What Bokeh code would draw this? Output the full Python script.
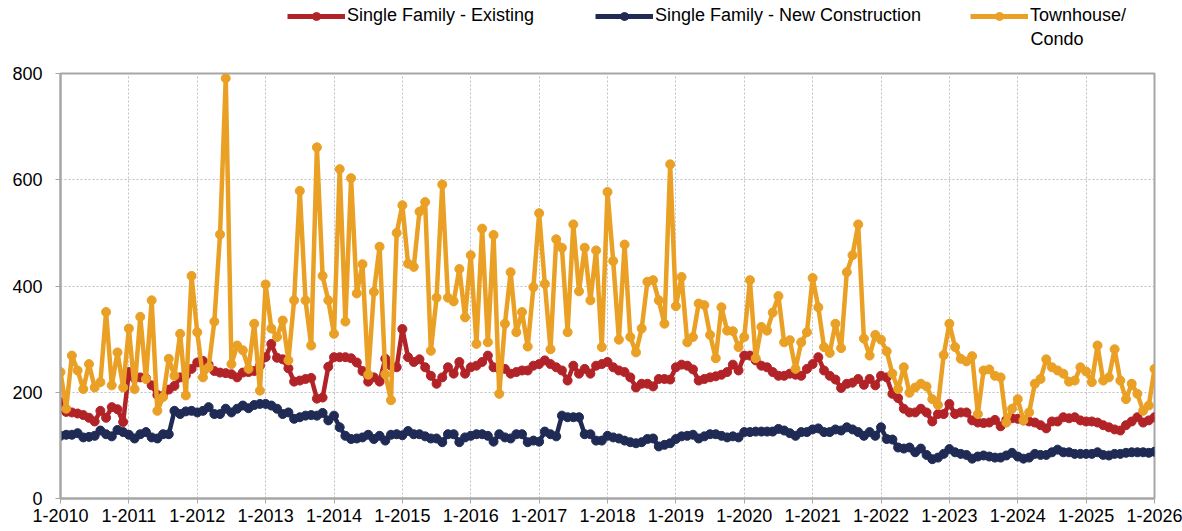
from bokeh.plotting import figure
from bokeh.layouts import column
from bokeh.models import Range1d, FixedTicker, Legend, LegendItem, Label, ColumnDataSource
from bokeh.embed import file_html
from bokeh.resources import INLINE

# ---------------- data (monthly, 1-2010 .. 1-2026) ----------------
tick_labels = ["1-2010", "1-2011", "1-2012", "1-2013", "1-2014", "1-2015", "1-2016",
               "1-2017", "1-2018", "1-2019", "1-2020", "1-2021", "1-2022", "1-2023",
               "1-2024", "1-2025", "1-2026"]

series_names = ["Single Family - Existing", "Single Family - New Construction", "Townhouse/"]
second_line = "Condo"

existing = [
    181, 163, 162, 160, 157, 152, 145, 165, 152, 172, 168, 144,
    238, 226, 228, 226, 213, 195, 193, 205, 212, 228, 232, 244,
    256, 259, 252, 240, 237, 236, 234, 228, 237, 238, 240, 250,
    266, 291, 265, 262, 245, 220, 222, 225, 227, 188, 190, 248,
    266, 266, 266, 264, 256, 240, 220, 228, 220, 263, 250, 247,
    319, 266, 257, 262, 247, 231, 216, 228, 247, 235, 257, 235,
    247, 250, 257, 269, 247, 244, 244, 235, 238, 241, 241, 250,
    253, 260, 253, 247, 241, 222, 250, 235, 244, 235, 250, 253,
    257, 247, 241, 238, 228, 209, 216, 216, 211, 225, 225, 224,
    247, 252, 250, 243, 222, 225, 228, 230, 233, 238, 252, 241,
    269, 269, 260, 250, 247, 238, 231, 231, 235, 233, 231, 244,
    253, 266, 241, 231, 224, 208, 216, 218, 225, 214, 225, 213,
    231, 228, 197, 189, 169, 162, 162, 169, 162, 145, 159, 159,
    178, 159, 162, 162, 147, 143, 142, 143, 148, 136, 148, 151,
    150, 147, 145, 143, 138, 132, 145, 145, 153, 151, 153, 147,
    145, 145, 143, 138, 134, 130, 128, 138, 145, 153, 143, 147,
    153,
]

new_construction = [
    118, 120, 120, 123, 115, 116, 118, 128, 121, 117, 129, 125,
    120, 113, 121, 125, 115, 113, 121, 121, 165, 159, 164, 165,
    162, 165, 172, 159, 159, 169, 162, 169, 175, 170, 176, 178,
    178, 175, 169, 159, 162, 150, 153, 156, 157, 156, 161, 147,
    156, 134, 118, 112, 113, 115, 120, 112, 118, 109, 120, 121,
    119, 127, 121, 121, 117, 113, 113, 106, 121, 121, 106, 115,
    118, 121, 121, 118, 107, 121, 115, 113, 121, 121, 106, 109,
    107, 126, 121, 117, 156, 153, 153, 153, 121, 121, 109, 109,
    118, 115, 113, 109, 106, 104, 106, 112, 113, 98, 101, 104,
    112, 117, 118, 120, 113, 117, 121, 121, 118, 115, 117, 115,
    125, 125, 126, 126, 126, 126, 131, 128, 123, 118, 125, 125,
    130, 132, 125, 125, 130, 128, 134, 130, 125, 118, 125, 118,
    134, 112, 111, 96, 94, 96, 87, 94, 82, 74, 77, 84,
    93, 87, 84, 82, 75, 79, 81, 79, 77, 77, 81, 86,
    79, 75, 77, 84, 82, 82, 87, 92, 87, 87, 84, 84,
    84, 84, 87, 82, 81, 84, 84, 86, 87, 87, 87, 86,
    88,
]

townhouse = [
    238, 169, 269, 241, 206, 253, 209, 219, 351, 213, 275, 209,
    320, 206, 342, 225, 373, 165, 191, 263, 231, 310, 194, 419,
    313, 228, 247, 333, 497, 791, 253, 288, 279, 244, 329, 203,
    403, 320, 304, 335, 260, 373, 579, 373, 288, 661, 419, 373,
    310, 620, 333, 603, 386, 441, 233, 389, 474, 234, 185, 500,
    552, 442, 436, 540, 558, 278, 378, 591, 378, 371, 432, 341,
    458, 291, 508, 294, 496, 197, 329, 426, 313, 351, 286, 398,
    537, 404, 281, 488, 472, 313, 516, 390, 472, 373, 467, 285,
    577, 447, 299, 478, 304, 275, 320, 408, 411, 373, 329, 629,
    362, 417, 294, 304, 367, 364, 308, 264, 360, 316, 315, 285,
    304, 411, 264, 323, 316, 350, 381, 294, 298, 244, 294, 313,
    415, 360, 285, 274, 329, 283, 426, 458, 516, 301, 269, 308,
    299, 277, 235, 206, 247, 199, 209, 216, 211, 187, 176, 270,
    329, 285, 263, 258, 268, 159, 241, 243, 231, 228, 143, 169,
    187, 147, 162, 216, 225, 262, 247, 241, 235, 220, 222, 247,
    239, 219, 288, 222, 228, 281, 222, 187, 216, 197, 165, 175,
    244,
]

months = list(range(len(existing)))

RED = "#B22328"
NAVY = "#1F2B55"
GOLD = "#E9A024"
AXIS_GRAY = "#A6A6A6"
GRID_GRAY = "#BFBFBF"
FONT = "Liberation Sans"
FSIZE = "18px"
colors = [RED, NAVY, GOLD]
all_series = [existing, new_construction, townhouse]

TOP_H = 60
W = 1182

# ---------------- main chart ----------------
p = figure(width=W, height=531 - TOP_H, output_backend="svg", toolbar_location=None,
           x_range=Range1d(0, len(existing) - 1), y_range=Range1d(0, 800),
           min_border_left=60, min_border_right=28, min_border_top=13, min_border_bottom=33)

p.background_fill_color = "white"
p.border_fill_color = "white"
p.outline_line_color = AXIS_GRAY
p.outline_line_width = 2

year_ticks = [12 * i for i in range(len(tick_labels))]
p.xaxis.ticker = FixedTicker(ticks=year_ticks)
p.xaxis.major_label_overrides = {t: lab for t, lab in zip(year_ticks, tick_labels)}
p.yaxis.ticker = FixedTicker(ticks=[0, 200, 400, 600, 800])

for ax in (p.xaxis[0], p.yaxis[0]):
    ax.axis_line_color = AXIS_GRAY
    ax.axis_line_width = 2
    ax.major_tick_line_color = AXIS_GRAY
    ax.major_tick_line_width = 1
    ax.major_tick_in = 0
    ax.major_tick_out = 5
    ax.minor_tick_line_color = None
    ax.major_label_text_font = FONT
    ax.major_label_text_font_size = FSIZE
    ax.major_label_text_color = "black"

p.xaxis.major_label_standoff = 5
p.yaxis.major_label_standoff = 13

p.xgrid.ticker = FixedTicker(ticks=year_ticks)
p.ygrid.ticker = FixedTicker(ticks=[200, 400, 600])
for g in (p.xgrid[0], p.ygrid[0]):
    g.grid_line_color = GRID_GRAY
    g.grid_line_dash = "2 2"
    g.grid_line_width = 1

for vals, col in zip(all_series, colors):
    src = ColumnDataSource(dict(x=months, y=vals))
    p.line("x", "y", source=src, line_color=col, line_width=4.5, line_join="round")
    p.scatter("x", "y", source=src, size=9, fill_color=col, line_color=col)

# ---------------- legend strip (frame aligned with the chart frame) ----------------
# the series are plotted here too, but outside the visible x range, so only the
# legend swatches show
top = figure(width=W, height=TOP_H, output_backend="svg", toolbar_location=None,
             x_range=Range1d(-20, -10), y_range=Range1d(0, 800),
             x_axis_type=None, y_axis_type=None,
             min_border_left=0, min_border_right=0, min_border_top=0, min_border_bottom=0)
top.outline_line_color = None
top.background_fill_color = "white"
top.border_fill_color = "white"
top.xgrid.visible = False
top.ygrid.visible = False

legend_x = [227, 535, 910]   # offsets from the (aligned) frame's left edge
for name, vals, col, lx in zip(series_names, all_series, colors, legend_x):
    src = ColumnDataSource(dict(x=months, y=vals))
    ln = top.line("x", "y", source=src, line_color=col, line_width=5)
    pt = top.scatter("x", "y", source=src, size=9, fill_color=col, line_color=col)
    lg = Legend(items=[LegendItem(label=name, renderers=[ln, pt])],
                location=(lx, 34), orientation="horizontal",
                border_line_color=None, background_fill_alpha=0,
                padding=0, margin=0, spacing=0,
                glyph_width=58, glyph_height=20, label_height=20, label_standoff=2,
                label_text_font=FONT, label_text_font_size=FSIZE, label_text_color="black")
    top.add_layout(lg, "center")

top.add_layout(Label(x=970, y=22, x_units="screen", y_units="screen", text=second_line,
                     text_font=FONT, text_font_size=FSIZE, text_color="black",
                     text_baseline="middle"))

layout = column(top, p, spacing=0)
open("out.html", "w").write(file_html(layout, INLINE))
